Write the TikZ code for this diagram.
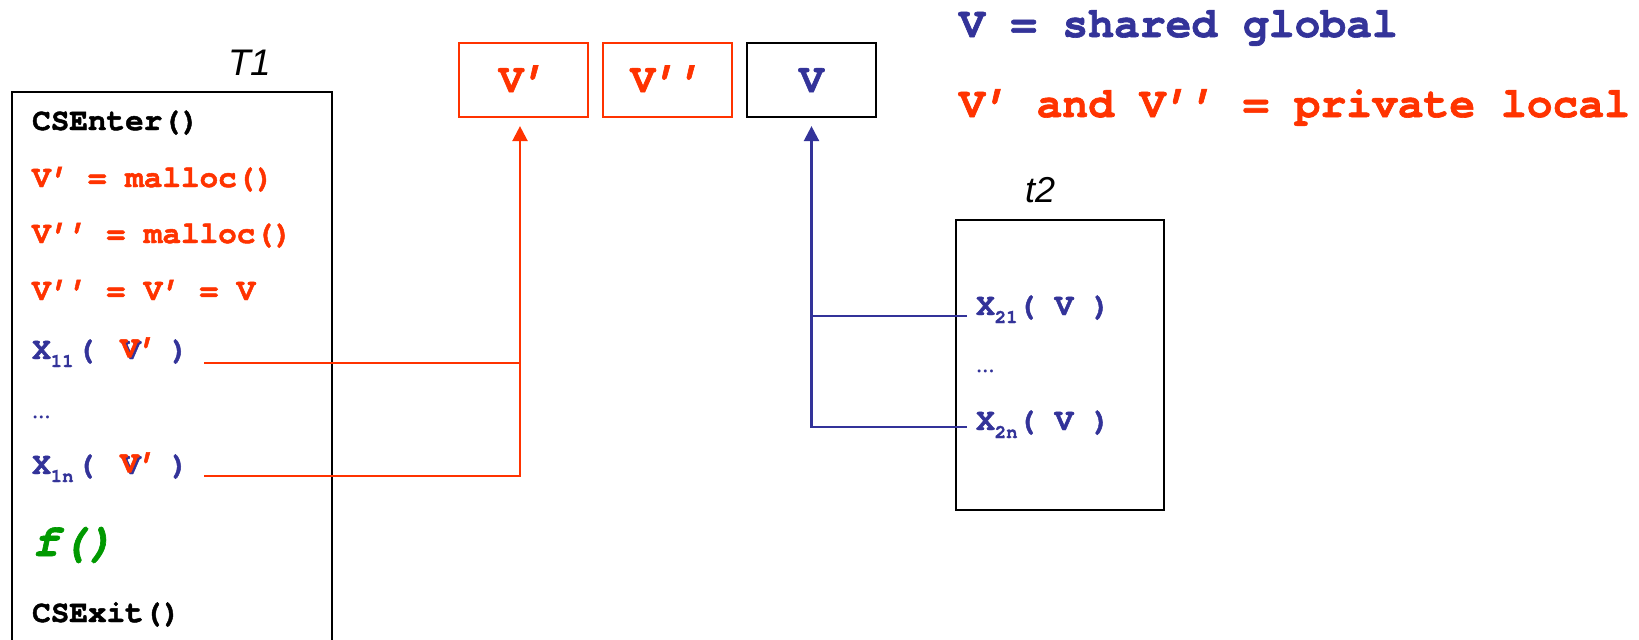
\documentclass[tikz,border=0pt]{standalone}
\usepackage{fontspec}
\newfontfamily\cour[BoldFeatures={FakeBold=1.5},BoldItalicFeatures={FakeBold=1.5}]{TeX Gyre Cursor}
\newfontfamily\arl{Liberation Sans}
\usetikzlibrary{arrows.meta}
\definecolor{vred}{HTML}{FF3300}
\definecolor{vblue}{HTML}{333399}
\definecolor{vgreen}{HTML}{009900}
\newcommand\sbs[1]{\raisebox{-8pt}{\fontsize{19}{19}\selectfont #1}}
\begin{document}
\begin{tikzpicture}[x=1pt,y=-1pt,
  code/.style={anchor=base west, inner sep=0pt, font=\cour\bfseries\fontsize{31}{31}\selectfont},
  dotsty/.style={anchor=base west, inner sep=0pt, font=\cour\mdseries\fontsize{31}{31}\selectfont},
  legend/.style={anchor=base west, inner sep=0pt, font=\cour\bfseries\fontsize{43}{43}\selectfont},
  label/.style={anchor=base west, inner sep=0pt, font=\arl\itshape\fontsize{37}{37}\selectfont},
  varbox/.style={draw, line width=2.2pt, minimum width=129pt, minimum height=74pt, inner sep=0pt,
     text height=24pt, text depth=0pt, font=\cour\bfseries\fontsize{41}{41}\selectfont},
  boxline/.style={line width=2.5pt},
  redw/.style={vred, line width=2.4pt},
  bluew/.style={vblue, line width=2.4pt},
  tip/.style={-{Triangle[width=15pt,length=15pt]}}
]
\useasboundingbox (0,0) rectangle (1639,640);

% T1 thread box
\draw[boxline] (12,641) -- (12,92) -- (332,92) -- (332,641);
\node[label] (T1) at (228,75) {T1};

\node[code] (l1) at (32,130) {CSEnter()};
\node[code,vred] (l2) at (32,187) {V’ = malloc()};
\node[code,vred] (l3) at (32,243) {V’’ = malloc()};
\node[code,vred] (l4) at (32,300) {V’’ = V’ = V};
\node[code,vblue] (x11) at (32,359) {X\sbs{11}\kern3pt(};
\node[code,vblue] (x11v) at (122,359) {V};
\node[code,vred] (x11r) at (120,357.5) {V’};
\node[code,vblue] (x11p) at (170,359) {)};
\node[dotsty,vblue] (dots1) at (32,418) {…};
\node[code,vblue] (x1n) at (32,474) {X\sbs{1n}\kern3pt(};
\node[code,vblue] (x1nv) at (122,474) {V};
\node[code,vred] (x1nr) at (120,472.5) {V’};
\node[code,vblue] (x1np) at (170,474) {)};
\node[code,vgreen,font=\cour\bfseries\itshape\fontsize{46}{46}\selectfont] (f) at (32,556) {f()};
\node[code] (l8) at (32,622) {CSExit()};

% variable boxes
\node[varbox,vred,text=vred] (vp) at (523.5,80) {V’};
\node[varbox,vred,text=vred] (vpp) at (667.5,80) {V’’};
\node[varbox,black,text=vblue] (vv) at (811.5,80) {V};

% t2 thread box
\node[draw, boxline, minimum width=208pt, minimum height=290pt, inner sep=0pt] (t2box) at (1060,365) {};
\node[label,font=\arl\itshape\fontsize{36}{36}\selectfont] (t2) at (1025,202) {t2};
\node[code,vblue] (x21) at (976,315) {X\sbs{21}(\ V )};
\node[dotsty,vblue] (dots2) at (976,372) {…};
\node[code,vblue] (x2n) at (976,430) {X\sbs{2n}(\ V )};

% legend
\node[legend,vblue] (leg1) at (959,37) {V = shared global};
\node[legend,vred] (leg2) at (959,117) {V’ and V’’ = private local};

% red connectors
\coordinate (r1s) at (204,363);
\coordinate (rns) at (204,476);
\draw[redw] (r1s) -- (r1s -| 520,0);
\draw[redw,tip] (rns) -| ([xshift=-3.5pt,yshift=-8pt]vp.south);

% blue connectors
\coordinate (b1s) at (967,316);
\coordinate (bns) at (967,427);
\draw[bluew] (b1s) -- (b1s -| vv.south);
\draw[bluew,tip] (bns) -| ([yshift=-8pt]vv.south);
\end{tikzpicture}
\end{document}
